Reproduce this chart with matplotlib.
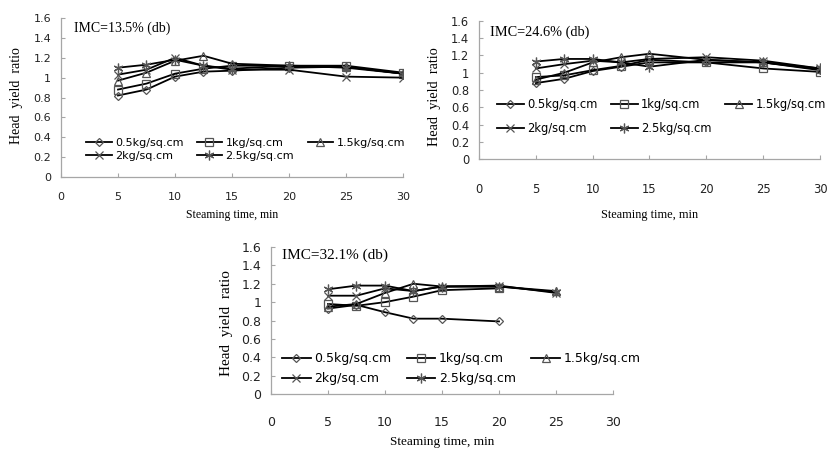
import matplotlib
matplotlib.use("Agg")
import matplotlib.pyplot as plt
from matplotlib.ticker import FuncFormatter

# ---------------- data ----------------
labels = ["0.5kg/sq.cm", "1kg/sq.cm", "1.5kg/sq.cm", "2kg/sq.cm", "2.5kg/sq.cm"]
x_full = [5, 7.5, 10, 12.5, 15, 20, 25, 30]

# IMC = 13.5 %
a_05 = [0.82, 0.88, 1.01, 1.06, 1.07, 1.10, 1.11, 1.04]
a_1 = [0.88, 0.94, 1.04, 1.09, 1.12, 1.12, 1.12, 1.05]
a_15 = [0.97, 1.05, 1.17, 1.22, 1.14, 1.12, 1.11, 1.04]
a_2 = [1.03, 1.08, 1.20, 1.12, 1.08, 1.08, 1.01, 1.00]
a_25 = [1.10, 1.13, 1.18, 1.12, 1.09, 1.12, 1.10, 1.04]

# IMC = 24.6 %
b_05 = [0.88, 0.93, 1.02, 1.07, 1.12, 1.12, 1.12, 1.03]
b_1 = [0.95, 0.97, 1.03, 1.08, 1.15, 1.12, 1.05, 1.01]
b_15 = [0.92, 1.00, 1.12, 1.18, 1.22, 1.15, 1.12, 1.04]
b_2 = [1.05, 1.10, 1.14, 1.12, 1.16, 1.18, 1.14, 1.05]
b_25 = [1.13, 1.16, 1.16, 1.12, 1.07, 1.15, 1.12, 1.05]

# IMC = 32.1 %
x_c_short = [5, 7.5, 10, 12.5, 15, 20]
x_c_long = [5, 7.5, 10, 12.5, 15, 20, 25]
c_05 = [0.93, 0.97, 0.89, 0.82, 0.82, 0.79]
c_1 = [0.98, 0.96, 1.00, 1.06, 1.13, 1.15]
c_15 = [0.95, 0.98, 1.10, 1.20, 1.17, 1.17, 1.12]
c_2 = [1.07, 1.07, 1.15, 1.12, 1.17, 1.18, 1.10]
c_25 = [1.14, 1.18, 1.18, 1.12, 1.17, 1.17, 1.11]

panels = [
    ("IMC=13.5% (db)", [(x_full, a_05), (x_full, a_1), (x_full, a_15), (x_full, a_2), (x_full, a_25)]),
    ("IMC=24.6% (db)", [(x_full, b_05), (x_full, b_1), (x_full, b_15), (x_full, b_2), (x_full, b_25)]),
    ("IMC=32.1% (db)", [(x_c_short, c_05), (x_c_short, c_1), (x_c_long, c_15), (x_c_long, c_2), (x_c_long, c_25)]),
]

markers = ["D", "s", "^", "x", (6, 2, 0)]
msizes = [4.0, 5.5, 5.5, 6.0, 7.0]

W, H = 829, 451
fig = plt.figure(figsize=(W / 100, H / 100), dpi=100)

# pixel geometry: (left, right, top, bottom) of plot area
geo = [(61, 403, 18, 177), (479, 820, 21, 159), (271, 613, 247, 394)]
fs = [8.0, 8.3, 9.0]
tickpad_x = [11, 17, 16]
xlab_y = [215, 215, 442]
ylab_x = [17, 435, 227]
ylab_yc = [96, 97, 323]
imc_xy = [(74, 28), (490, 32), (282, 255)]
leg_spec = [  # (x of left, y top of legend, labelspacing)
    (86, 138, 0.25),
    (497, 98, 0.95),
    (282, 352, 0.55),
]

grey = "#a6a6a6"
fmt = FuncFormatter(lambda v, p: ("%g" % round(v, 1)))

for i, (title, series) in enumerate(panels):
    l, r, t, b = geo[i]
    ax = fig.add_axes([l / W, (H - b) / H, (r - l) / W, (b - t) / H])
    handles = []
    for j, (xs, ys) in enumerate(series):
        h, = ax.plot(xs, ys, color="black", lw=1.3, marker=markers[j], ms=msizes[j],
                     mfc="none", mec="#555555", mew=0.9, label=labels[j])
        handles.append(h)
    ax.set_xlim(0, 30)
    ax.set_ylim(0, 1.6)
    ax.set_xticks(range(0, 31, 5))
    ax.set_yticks([k * 0.2 for k in range(9)])
    ax.yaxis.set_major_formatter(fmt)
    for s in ["top", "right"]:
        ax.spines[s].set_visible(False)
    for s in ["left", "bottom"]:
        ax.spines[s].set_color(grey)
        ax.spines[s].set_linewidth(0.9)
    ax.tick_params(axis="both", direction="in", length=3, color=grey, width=0.8,
                   labelsize=fs[i], labelcolor="#222222")
    ax.tick_params(axis="x", pad=tickpad_x[i])
    ax.tick_params(axis="y", pad=7)

    ax.set_xlabel("Steaming time, min", family="Liberation Serif", fontsize=fs[i] + 0.5)
    ax.xaxis.set_label_coords(0.5, -(xlab_y[i] - b) / (b - t))
    ax.xaxis.label.set_va("center")
    ax.set_ylabel("Head  yield  ratio", family="Liberation Serif", fontsize=fs[i] + 2)
    ax.yaxis.set_label_coords((ylab_x[i] - l) / (r - l), (b - ylab_yc[i]) / (b - t))
    ax.yaxis.label.set_va("center")

    ix, iy = imc_xy[i]
    ax.text((ix - l) / (r - l), (b - iy) / (b - t), title, transform=ax.transAxes,
            family="Liberation Serif", fontsize=fs[i] + 2, va="center", ha="left")

    order = [0, 3, 1, 4, 2]
    lx, ly, lsp = leg_spec[i]
    ax.legend([handles[k] for k in order], [labels[k] for k in order], ncol=3,
              loc="upper left", bbox_to_anchor=((lx - l) / (r - l), (b - ly) / (b - t)),
              frameon=False, fontsize=fs[i], handlelength=2.3, handletextpad=0.3,
              columnspacing=1.2, labelspacing=lsp, borderpad=0, borderaxespad=0)

fig.savefig("out.png", dpi=100)
